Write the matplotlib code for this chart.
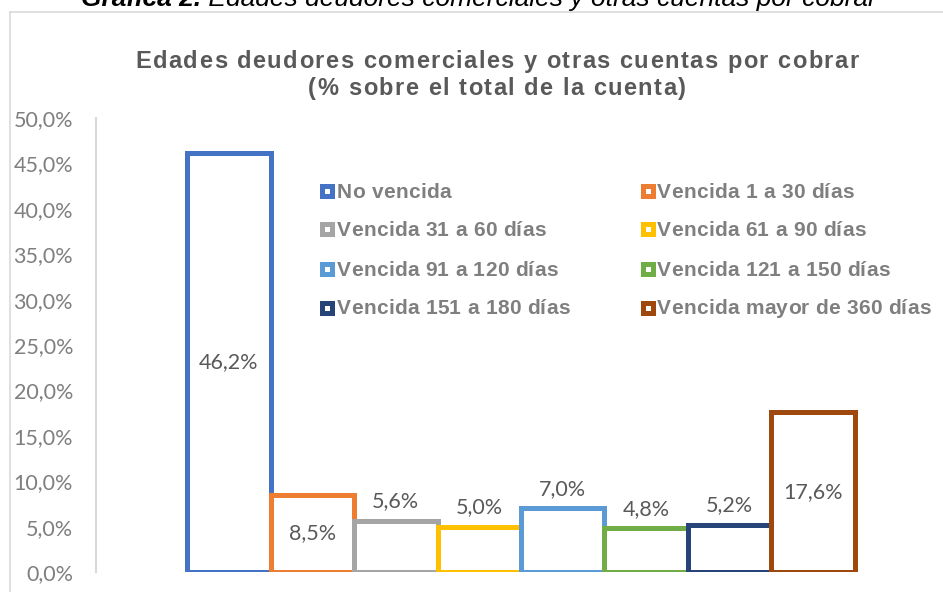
import numpy as np
import matplotlib
matplotlib.use("Agg")
import matplotlib.pyplot as plt
from matplotlib.lines import Line2D
from matplotlib.ticker import FuncFormatter

# --- data ---
categories = ["No vencida", "Vencida 1 a 30 días", "Vencida 31 a 60 días",
              "Vencida 61 a 90 días", "Vencida 91 a 120 días",
              "Vencida 121 a 150 días", "Vencida 151 a 180 días",
              "Vencida mayor de 360 días"]
values = [46.2, 8.5, 5.6, 5.0, 7.0, 4.8, 5.2, 17.6]
label_inside = [True, True, False, False, False, False, False, True]
colors = ["#4472C4", "#ED7D31", "#A5A5A5", "#FFC000",
          "#5B9BD5", "#70AD47", "#264478", "#9E480E"]

W, H = 943, 592
fig = plt.figure(figsize=(W / 100, H / 100), dpi=100)
fig.patch.set_facecolor("white")
renderer = fig.canvas.get_renderer()


def fx(px):
    return px / W


def fy(py):
    return 1 - py / H


def text_width(s, **kw):
    t = fig.text(0, 0, s, **kw)
    w = t.get_window_extent(renderer).width
    t.remove()
    return w


def advances(s, **kw):
    base = text_width("ll", **kw)
    return [text_width("l" + c + "l", **kw) - base for c in s]


def spaced_text(x, y, s, spacing, ha="center", **kw):
    # draw text char by char with extra letter spacing (pixels)
    adv = advances(s, **kw)
    total = sum(adv) + spacing * (len(s) - 1)
    cx = x - total / 2 if ha == "center" else x
    for c, a in zip(s, adv):
        if c != " ":
            fig.text(fx(cx), fy(y), c, ha="left", va="baseline", **kw)
        cx += a + spacing


def spacing_for(s, target, **kw):
    adv = advances(s, **kw)
    return (target - sum(adv)) / (len(s) - 1)


# outer chart border (left and top visible)
fig.add_artist(Line2D([fx(10), fx(10)], [0, fy(12)], transform=fig.transFigure,
                      color="#d9d9d9", lw=1.2))
fig.add_artist(Line2D([fx(10), 1], [fy(12), fy(12)], transform=fig.transFigure,
                      color="#d9d9d9", lw=1.2))

# document caption, cut off at top as in the source
cap_kw = dict(fontsize=19, fontstyle="italic", family="Liberation Sans", color="black")
t1 = fig.text(0, fy(6), "Gráfica 2.", fontweight="bold", va="baseline", ha="left", **cap_kw)
t2 = fig.text(0, fy(6), " Edades deudores comerciales y otras cuentas por cobrar",
              va="baseline", ha="left", **cap_kw)
w1 = t1.get_window_extent(renderer).width
w2 = t2.get_window_extent(renderer).width
x0 = 479 - (w1 + w2) / 2
t1.set_x(fx(x0))
t2.set_x(fx(x0 + w1))

# chart title with slight letter spacing
title_kw = dict(fontsize=17, fontweight="bold", color="#595959", family="Liberation Sans")
line1 = "Edades deudores comerciales y otras cuentas por cobrar"
line2 = "(% sobre el total de la cuenta)"
sp = spacing_for(line1, 723, **title_kw)
spaced_text(497, 68, line1, sp, **title_kw)
spaced_text(497, 95, line2, sp, **title_kw)

# plot area
ax = fig.add_axes([fx(96), fy(572), 850 / W, (572 - 118) / H])
x = np.arange(len(values))
ax.bar(x, values, width=1.0, facecolor="white", edgecolor=colors, linewidth=3.6)
ax.set_xlim(-1.593, 8.593)
ax.set_ylim(0, 50)
ax.set_yticks(np.arange(0, 50.1, 5))
ax.yaxis.set_major_formatter(FuncFormatter(lambda v, p: f"{v:.1f}%".replace(".", ",")))
ax.set_xticks([])
for s in ["top", "right", "bottom"]:
    ax.spines[s].set_visible(False)
ax.spines["left"].set_color("#d9d9d9")
ax.spines["left"].set_linewidth(1.5)
ax.tick_params(axis="y", length=0, pad=16.5, labelsize=15.5, labelcolor="#7f7f7f")
for lab in ax.get_yticklabels():
    lab.set_family("Lato")

# data labels
for xi, v, inside in zip(x, values, label_inside):
    txt = f"{v:.1f}%".replace(".", ",")
    if inside:
        ax.text(xi, v / 2, txt, ha="center", va="center", fontsize=15.5,
                color="#595959", family="Lato")
    else:
        ax.annotate(txt, (xi, v), xytext=(0, 14.2), textcoords="offset points",
                    ha="center", va="center", fontsize=15.5, color="#595959",
                    family="Lato")

# legend, two columns filled row by row
leg_kw = dict(fontsize=15, fontweight="bold", color="#7f7f7f", family="Liberation Sans")
leg_sp = max(spacing_for("Vencida mayor de 360 días", 274, **leg_kw), 0)
col_marker = [326.5, 647.5]
col_text = [337, 657]
row_y = [190.5, 229.5, 268.5, 307.5]
for i, (name, c) in enumerate(zip(categories, colors)):
    r, col = divmod(i, 2)
    fig.add_artist(Line2D([fx(col_marker[col])], [fy(row_y[r])], transform=fig.transFigure,
                          ls="none", marker="s", markersize=7.2, markerfacecolor="white",
                          markeredgecolor=c, markeredgewidth=3.6))
    spaced_text(col_text[col], row_y[r] + 7, name, leg_sp, ha="left", **leg_kw)

fig.savefig("out.png", dpi=100)
